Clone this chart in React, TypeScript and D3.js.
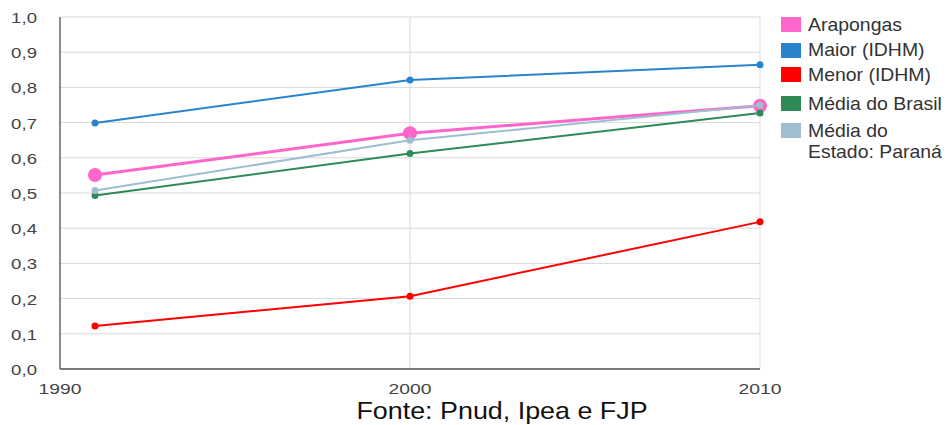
import React from "react";
import * as d3 from "d3";

const years = [1991, 2000, 2010];
const seriesNames = ["Arapongas", "Maior (IDHM)", "Menor (IDHM)", "Média do Brasil", "Média do Estado: Paraná"];
const arapongas = [0.551, 0.67, 0.748];
const maior = [0.699, 0.821, 0.864];
const menor = [0.122, 0.207, 0.418];
const brasil = [0.493, 0.612, 0.727];
const parana = [0.507, 0.65, 0.749];
const colors = ["#ff66cc", "#2a84cc", "#ff0000", "#2e8b57", "#9dbfcf"];
const yTicks = [0, 0.1, 0.2, 0.3, 0.4, 0.5, 0.6, 0.7, 0.8, 0.9, 1.0];
const xTicks = [1990, 2000, 2010];
const legendLines = [["Arapongas"], ["Maior (IDHM)"], ["Menor (IDHM)"], ["Média do Brasil"], ["Média do", "Estado: Paraná"]];

function SText({ x, y, sx, anchor, size, fill, children }: any) {
  return (
    <g transform={`translate(${x} ${y}) scale(${sx} 1)`}>
      <text x={0} y={0} textAnchor={anchor} fontSize={size} fill={fill}>{children}</text>
    </g>
  );
}

export default function App() {
  const W = 949, H = 425;
  const x = d3.scaleLinear().domain([1990, 2010]).range([60, 760]);
  const y = d3.scaleLinear().domain([0, 1]).range([369, 17]);
  const data = [arapongas, maior, menor, brasil, parana];
  const line = d3.line<number>().x((_, i) => x(years[i])).y((d) => y(d));
  const fmt = (v: number) => v.toFixed(1).replace(".", ",");
  const swatchTop = [17, 43, 67, 96, 123];
  const baselines = [31, 56, 81, 110, 137];
  return (
    <svg width={W} height={H} style={{ position: "absolute", left: 0, top: 0, background: "#fff" }} fontFamily="Arial, 'Liberation Sans', sans-serif">
      {yTicks.map((t) => (
        <line key={"g" + t} x1={60} x2={760} y1={y(t)} y2={y(t)} stroke="#d9d9d9" strokeWidth={1} />
      ))}
      {xTicks.slice(1).map((t) => (
        <line key={"v" + t} x1={x(t)} x2={x(t)} y1={17} y2={369} stroke="#d9d9d9" strokeWidth={1} />
      ))}
      <line x1={60} x2={60} y1={17} y2={369} stroke="#666" strokeWidth={1.5} />
      <line x1={60} x2={760} y1={369} y2={369} stroke="#555" strokeWidth={1.5} />
      {yTicks.map((t) => (
        <SText key={"yt" + t} x={37} y={y(t) + 6} sx={1.33} anchor="end" size={14} fill="#444">{fmt(t)}</SText>
      ))}
      {xTicks.map((t) => (
        <SText key={"xt" + t} x={x(t)} y={394} sx={1.38} anchor="middle" size={14} fill="#444">{t}</SText>
      ))}
      {data.map((s, si) => (
        <g key={"s" + si}>
          <path d={line(s) || ""} fill="none" stroke={colors[si]} strokeWidth={si === 0 ? 3 : 2} />
          {s.map((v, i) => (
            <circle key={i} cx={x(years[i])} cy={y(v)} r={si === 0 ? 7 : 3.5} fill={colors[si]} />
          ))}
        </g>
      ))}
      {seriesNames.map((n, i) => (
        <g key={"l" + n}>
          <rect x={781} y={swatchTop[i]} width={20} height={15} fill={colors[i]} />
          {legendLines[i].map((ln, j) => (
            <SText key={j} x={808} y={baselines[i] + j * 21} sx={1.08} anchor="start" size={18} fill="#333">{ln}</SText>
          ))}
        </g>
      ))}
      <SText x={502} y={419} sx={1.12} anchor="middle" size={24} fill="#111">Fonte: Pnud, Ipea e FJP</SText>
    </svg>
  );
}
